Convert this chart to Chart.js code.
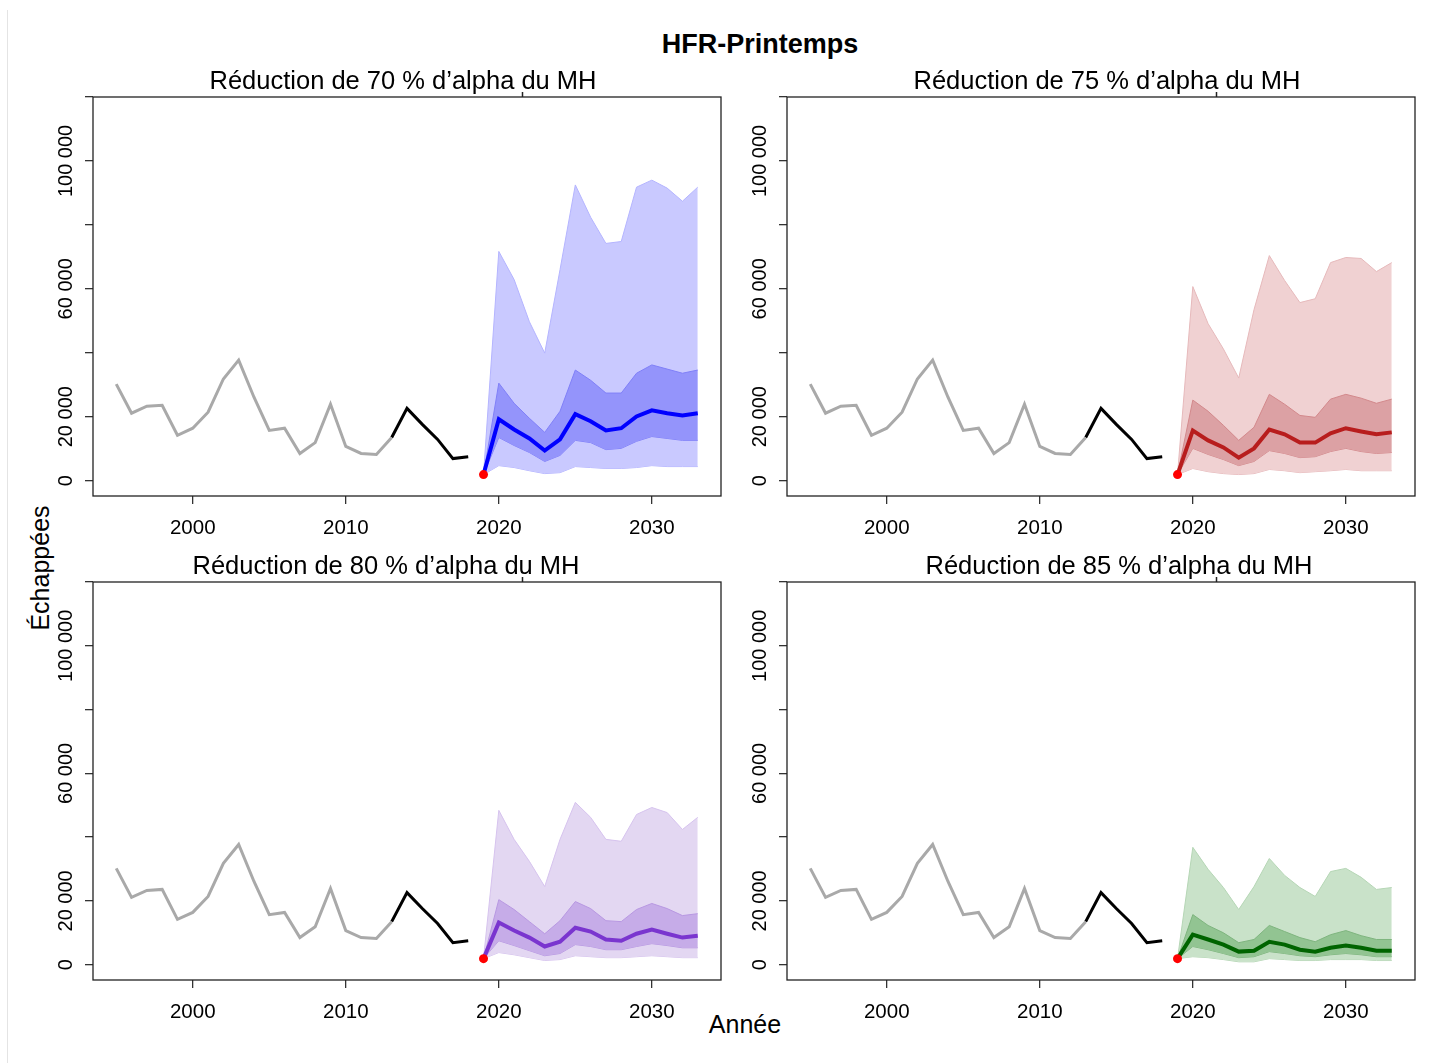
<!DOCTYPE html>
<html>
<head>
<meta charset="utf-8">
<script src="https://cdn.jsdelivr.net/npm/chart.js@4.4.1/dist/chart.umd.min.js"></script>
<style>
  body { margin: 0; background: #fff; width: 1439px; height: 1063px; position: relative; overflow: hidden;
         font-family: "Liberation Sans", Arial, sans-serif; color: #000; }
  .panel { position: absolute; }
  #edge { position: absolute; left: 7px; top: 10px; width: 1px; height: 1053px; background: #e4e4e4; }
  #main-title { position: absolute; left: 560px; width: 400px; top: 31px; text-align: center;
                font-size: 27px; font-weight: bold; line-height: 27px; }
  #y-title { position: absolute; left: 40px; top: 568px; font-size: 25px; line-height: 25px; white-space: nowrap;
             transform: translate(-50%, -50%) rotate(-90deg); }
  #x-title { position: absolute; left: 645px; width: 200px; top: 1012px; text-align: center;
             font-size: 25px; line-height: 25px; }
</style>
</head>
<body>
<div id="edge"></div>
<div id="main-title">HFR-Printemps</div>
<div id="y-title">Échappées</div>
<div id="x-title">Année</div>

<canvas id="p70" class="panel" style="left:0;top:60px" width="735" height="489"></canvas>
<canvas id="p75" class="panel" style="left:694px;top:60px" width="735" height="489"></canvas>
<canvas id="p80" class="panel" style="left:0;top:545px" width="735" height="488"></canvas>
<canvas id="p85" class="panel" style="left:694px;top:545px" width="735" height="488"></canvas>

<script>
// ── Observed escapements ──
const HIST_YEARS  = [1995, 1996, 1997, 1998, 1999, 2000, 2001, 2002, 2003, 2004, 2005, 2006, 2007, 2008, 2009, 2010, 2011, 2012, 2013];
const HIST_VALUES = [30200, 21100, 23300, 23600, 14200, 16400, 21400, 31800, 37700, 26100, 15700, 16400, 8500, 11900, 23900, 10700, 8500, 8200, 13500];
const RECENT_YEARS  = [2013, 2014, 2015, 2016, 2017, 2018];
const RECENT_VALUES = [13500, 22600, 17600, 12900, 6900, 7500];
const START_YEARS  = [2019];
const START_VALUES = [1900];

// ── Projections 2019–2033 (median, 50 % and 90 % envelopes) ──
const PROJ_YEARS = [2019, 2020, 2021, 2022, 2023, 2024, 2025, 2026, 2027, 2028, 2029, 2030, 2031, 2032, 2033];

const MED_70      = [1900, 19200, 16000, 13200, 9400, 12900, 20800, 18600, 15700, 16400, 20100, 22000, 21100, 20400, 21100];
const IN_HI_70    = [1900, 30500, 24200, 19500, 15100, 21700, 34600, 31400, 27400, 27400, 33600, 36200, 34900, 33600, 34600];
const IN_LO_70    = [1900, 13500, 11000, 8800, 6000, 7900, 12600, 11900, 9700, 10100, 12300, 13800, 13200, 12600, 12600];
const OUT_HI_70   = [1900, 71700, 62900, 49700, 39900, 66000, 92500, 82400, 74200, 74800, 91800, 94000, 91500, 87400, 91800];
const OUT_LO_70   = [1900, 4700, 4100, 3100, 2200, 2500, 4400, 4100, 3800, 3800, 4100, 4700, 4400, 4400, 4400];

const MED_75      = [1900, 15700, 12600, 10400, 7200, 10100, 16000, 14500, 11900, 11900, 14800, 16400, 15400, 14500, 15100];
const IN_HI_75    = [1900, 25200, 21700, 17300, 12600, 16700, 27000, 23900, 20400, 19800, 25500, 27000, 25800, 24200, 25500];
const IN_LO_75    = [1900, 10100, 8200, 6600, 4700, 6000, 9400, 8500, 7200, 7500, 9100, 10100, 9100, 8500, 8800];
const OUT_HI_75   = [1900, 60700, 49100, 41200, 32100, 53500, 70400, 62600, 55700, 56900, 68200, 69800, 69500, 65400, 68200];
const OUT_LO_75   = [1900, 3800, 2800, 2200, 1900, 2200, 3500, 3100, 2500, 2800, 3100, 3500, 3100, 3100, 3100];

const MED_80      = [1900, 13200, 10700, 8500, 5700, 7200, 11600, 10400, 7900, 7500, 9700, 11000, 9700, 8500, 9100];
const IN_HI_80    = [1900, 20400, 17300, 13500, 9700, 13800, 19800, 17600, 13800, 13500, 17300, 19200, 17600, 15400, 16000];
const IN_LO_80    = [1900, 7500, 6000, 4400, 2800, 3500, 6300, 5700, 4700, 4700, 5700, 6600, 6000, 5300, 5300];
const OUT_HI_80   = [1900, 48400, 39300, 32400, 24500, 39300, 50900, 46200, 39300, 38700, 47100, 49300, 47700, 42400, 46200];
const OUT_LO_80   = [1900, 3800, 3100, 2200, 1300, 1600, 2800, 2500, 2200, 2200, 2500, 2800, 2500, 2200, 2200];

const MED_85      = [1900, 9400, 7900, 6300, 4100, 4400, 7200, 6300, 4700, 4100, 5300, 6000, 5300, 4400, 4400];
const IN_HI_85    = [1900, 15700, 12300, 10000, 6900, 7900, 12300, 10400, 8500, 7200, 9400, 10700, 9100, 7900, 7900];
const IN_LO_85    = [1900, 5700, 4700, 3500, 2200, 2500, 4100, 3500, 2800, 2500, 3100, 3500, 3100, 2500, 2500];
const OUT_HI_85   = [1900, 36800, 29900, 24200, 17300, 24500, 33300, 28000, 24200, 21400, 29200, 30200, 27400, 23600, 24200];
const OUT_LO_85   = [1900, 2500, 2200, 1600, 900, 900, 1900, 1600, 1300, 1300, 1600, 1600, 1600, 1300, 1300];

// ── Axes ──
const X_TICKS    = [2000, 2010, 2020, 2030];
const Y_TICKS    = [0, 20000, 40000, 60000, 80000, 100000, 120000];
const Y_LABELLED = [0, 20000, 60000, 100000];

const FONT = 'Liberation Sans, Arial, sans-serif';
const pts = (xs, ys) => xs.map((x, i) => ({ x, y: ys[i] }));
const fmtN = v => String(v).replace(/\B(?=(\d{3})+(?!\d))/g, ' ');

// box, panel title, stray top tick and rotated y labels (R style)
const panelDecor = {
  id: 'panelDecor',
  afterDraw(chart, args, opts) {
    const { ctx, chartArea: a } = chart;
    const xs = chart.scales.x, ys = chart.scales.y;
    ctx.save();
    ctx.strokeStyle = '#222';
    ctx.lineWidth = 1.3;
    ctx.strokeRect(a.left, a.top, a.right - a.left, a.bottom - a.top);

    const mx = Math.round(xs.getPixelForValue(2021.5)) + 0.5;
    ctx.lineWidth = 1.5;
    ctx.beginPath();
    ctx.moveTo(mx, a.top);
    ctx.lineTo(mx, a.top - 5);
    ctx.stroke();

    ctx.fillStyle = '#000';
    ctx.font = `25.5px ${FONT}`;
    ctx.textAlign = 'center';
    ctx.textBaseline = 'alphabetic';
    ctx.fillText(opts.title, (a.left + a.right) / 2 + opts.titleShift, a.top - 8);

    ctx.font = `20px ${FONT}`;
    Y_LABELLED.forEach(v => {
      const y = ys.getPixelForValue(v);
      ctx.save();
      ctx.translate(a.left - 21, y);
      ctx.rotate(-Math.PI / 2);
      ctx.fillText(fmtN(v), 0, 0);
      ctx.restore();
    });
    ctx.restore();
  }
};

function drawPanel(id, title, titleShift, col, med, inHi, inLo, outHi, outLo) {
  const line = (data, color, width, order) => ({
    data, borderColor: color, borderWidth: width, pointRadius: 0, fill: false, order
  });
  new Chart(document.getElementById(id), {
    type: 'line',
    data: {
      datasets: [
        { data: pts(PROJ_YEARS, outHi), borderColor: col.outEdge, borderWidth: 1, backgroundColor: col.outer,
          pointRadius: 0, fill: '+1', order: 6 },
        { data: pts(PROJ_YEARS, outLo), borderColor: col.outEdge, borderWidth: 1, pointRadius: 0, fill: false, order: 6 },
        { data: pts(PROJ_YEARS, inHi), borderColor: col.inEdge, borderWidth: 1, backgroundColor: col.inner,
          pointRadius: 0, fill: '+1', order: 4 },
        { data: pts(PROJ_YEARS, inLo), borderColor: col.inEdge, borderWidth: 1, pointRadius: 0, fill: false, order: 4 },
        line(pts(PROJ_YEARS, med), col.median, 4, 2),
        line(pts(HIST_YEARS, HIST_VALUES), '#a9a9a9', 3, 1),
        line(pts(RECENT_YEARS, RECENT_VALUES), '#000', 3, 1),
        { data: pts(START_YEARS, START_VALUES), showLine: false, pointRadius: 4.5, pointBorderWidth: 0,
          pointBackgroundColor: '#ff0000', order: 0 }
      ]
    },
    options: {
      responsive: false, animation: false,
      layout: { padding: { top: 37, right: 14, left: 0, bottom: 0 } },
      plugins: { legend: { display: false }, tooltip: { enabled: false }, panelDecor: { title, titleShift } },
      scales: {
        x: {
          type: 'linear', min: 1993.48, max: 2034.52,
          afterBuildTicks: s => { s.ticks = X_TICKS.map(v => ({ value: v })); },
          afterFit: s => { s.height = 53; },
          grid: { drawOnChartArea: false, drawTicks: true, tickLength: 8, color: '#333', lineWidth: 1.3 },
          border: { display: false },
          ticks: { color: '#000', padding: 12, maxRotation: 0, font: { family: FONT, size: 20.5 }, callback: v => String(v) }
        },
        y: {
          type: 'linear', min: -4800, max: 120000,
          afterBuildTicks: s => { s.ticks = Y_TICKS.map(v => ({ value: v })); },
          afterFit: s => { s.width = 93; },
          grid: { drawOnChartArea: false, drawTicks: true, tickLength: 8, color: '#333', lineWidth: 1.3 },
          border: { display: false },
          ticks: { display: false }
        }
      }
    },
    plugins: [panelDecor]
  });
}

drawPanel('p70', 'Réduction de 70 % d’alpha du MH', -4,
  { outer: '#c9c9ff', inner: '#9494fb', outEdge: '#b4b4ff', inEdge: '#8080f8', median: '#0000ff' },
  MED_70, IN_HI_70, IN_LO_70, OUT_HI_70, OUT_LO_70);
drawPanel('p75', 'Réduction de 75 % d’alpha du MH', 6,
  { outer: '#f0d1d2', inner: '#dca1a4', outEdge: '#e6b9bb', inEdge: '#d3898c', median: '#b81d1d' },
  MED_75, IN_HI_75, IN_LO_75, OUT_HI_75, OUT_LO_75);
drawPanel('p80', 'Réduction de 80 % d’alpha du MH', -21,
  { outer: '#e3d7f2', inner: '#c6ace8', outEdge: '#d6c3ee', inEdge: '#b898e2', median: '#7a35cf' },
  MED_80, IN_HI_80, IN_LO_80, OUT_HI_80, OUT_LO_80);
drawPanel('p85', 'Réduction de 85 % d’alpha du MH', 18,
  { outer: '#c9e2c9', inner: '#92c492', outEdge: '#b5d6b5', inEdge: '#7fb57f', median: '#006400' },
  MED_85, IN_HI_85, IN_LO_85, OUT_HI_85, OUT_LO_85);
</script>
</body>
</html>
